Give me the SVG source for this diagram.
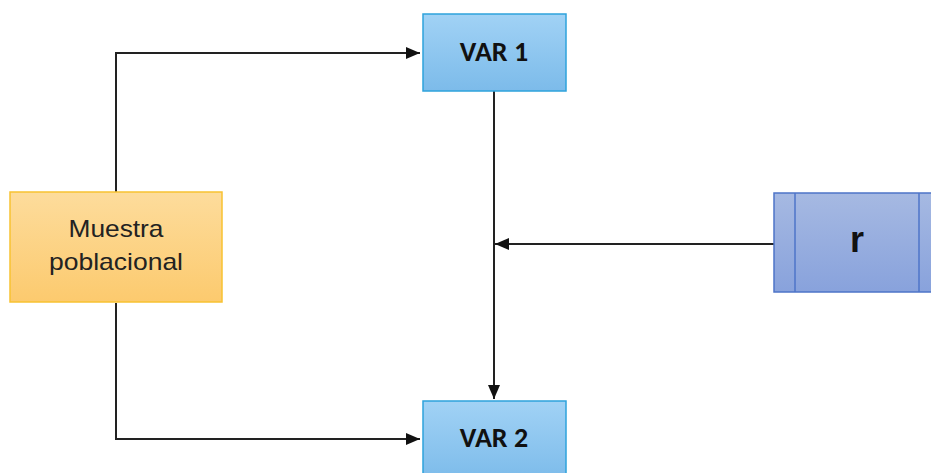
<svg xmlns="http://www.w3.org/2000/svg" width="931" height="473" viewBox="0 0 931 473">
  <defs>
    <linearGradient id="gOrange" x1="0" y1="0" x2="0" y2="1">
      <stop offset="0" stop-color="#fddc9c"/>
      <stop offset="1" stop-color="#fcca6e"/>
    </linearGradient>
    <linearGradient id="gBlue" x1="0" y1="0" x2="0" y2="1">
      <stop offset="0" stop-color="#a1d2f5"/>
      <stop offset="1" stop-color="#7cbbea"/>
    </linearGradient>
    <linearGradient id="gIndigo" x1="0" y1="0" x2="0" y2="1">
      <stop offset="0" stop-color="#a6b9e2"/>
      <stop offset="1" stop-color="#88a2dc"/>
    </linearGradient>
    <marker id="arrow" viewBox="0 0 14 12" refX="14" refY="6" markerWidth="14" markerHeight="12" markerUnits="userSpaceOnUse" orient="auto">
      <path d="M0,0 L14,6 L0,12 Z" fill="#111"/>
    </marker>
    <style>
      .conn { fill: none; stroke: #222; stroke-width: 2; }
      .var { fill: url(#gBlue); stroke: #2ea3dc; stroke-width: 1.5; }
      .varText { font-family: Carlito, Calibri, "Liberation Sans", sans-serif; font-weight: bold; font-size: 28px; fill: #111; text-anchor: middle; }
      .label { font-family: "Liberation Sans", Arial, sans-serif; font-size: 24px; fill: #222; text-anchor: middle; }
    </style>
  </defs>

  <g id="connectors">
    <polyline class="conn" points="116,192 116,53 420,53" marker-end="url(#arrow)"/>
    <polyline class="conn" points="116,303 116,439 420,439" marker-end="url(#arrow)"/>
    <line class="conn" x1="494" y1="91" x2="494" y2="399" marker-end="url(#arrow)"/>
    <line class="conn" x1="774" y1="244" x2="495" y2="244" marker-end="url(#arrow)"/>
  </g>

  <g id="muestra">
    <rect x="10" y="192" width="212" height="110" fill="url(#gOrange)" stroke="#f8c232" stroke-width="1.5"/>
    <text class="label" x="116" y="237" textLength="95" lengthAdjust="spacingAndGlyphs">Muestra</text>
    <text class="label" x="116" y="270" textLength="134" lengthAdjust="spacingAndGlyphs">poblacional</text>
  </g>

  <g id="var1">
    <rect class="var" x="423" y="14" width="143" height="77"/>
    <text class="varText" x="494" y="61">VAR 1</text>
  </g>

  <g id="var2">
    <rect class="var" x="423" y="401" width="143" height="80"/>
    <text class="varText" x="494" y="447">VAR 2</text>
  </g>

  <g id="r">
    <rect x="774" y="193" width="165" height="99" fill="url(#gIndigo)" stroke="#4e74c8" stroke-width="1.5"/>
    <line x1="795" y1="193" x2="795" y2="292" stroke="#4e74c8" stroke-width="1.5"/>
    <line x1="919" y1="193" x2="919" y2="292" stroke="#4e74c8" stroke-width="1.5"/>
    <text x="857" y="252" text-anchor="middle" font-family="'Liberation Sans', Arial, sans-serif" font-weight="bold" font-size="36" fill="#111">r</text>
  </g>
</svg>
